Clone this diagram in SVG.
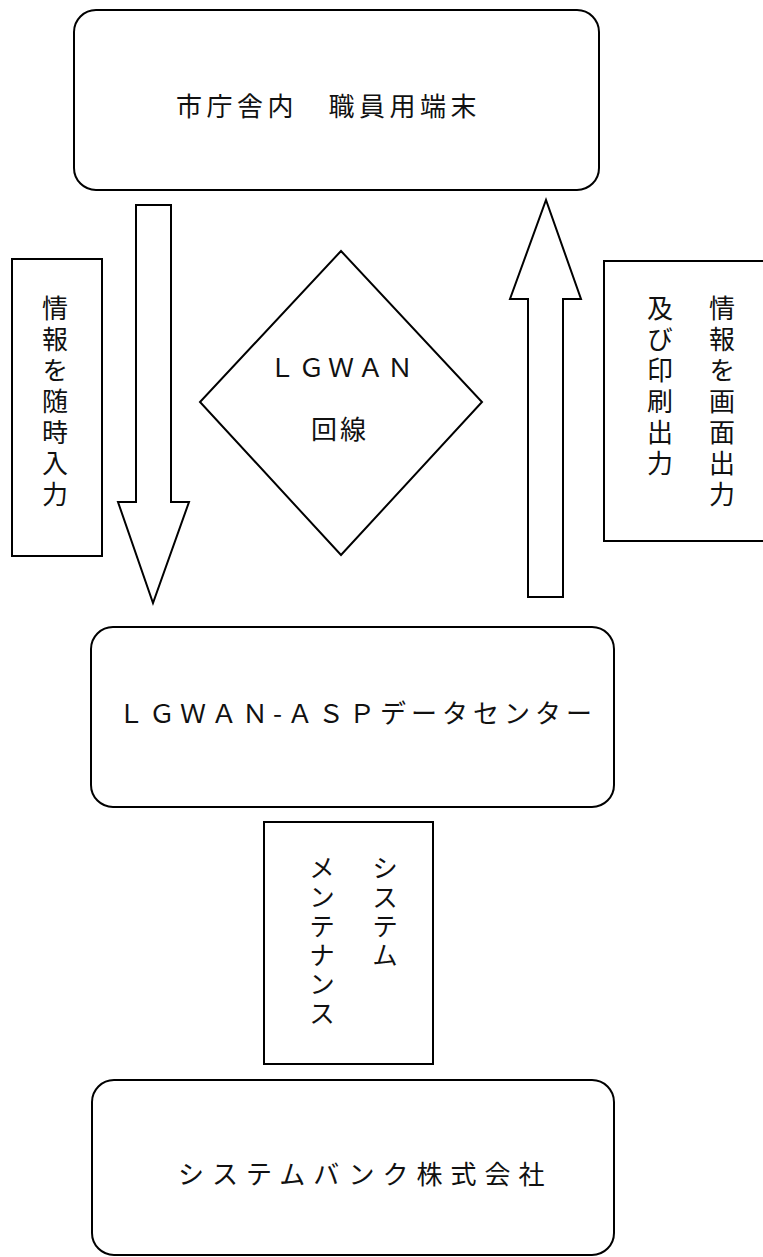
<svg xmlns="http://www.w3.org/2000/svg" width="763" height="1257" viewBox="0 0 763 1257">
<style>
.box{fill:#fff;stroke:#000;stroke-width:2}
.shape{fill:#fff;stroke:#000;stroke-width:2;stroke-linejoin:miter}
.t{font-family:"Noto Sans CJK JP","Noto Sans CJK SC",sans-serif;font-size:26px;fill:#111}
.v{writing-mode:vertical-rl}
</style>
<rect width="763" height="1257" fill="#fff"/>
<g id="connectors">
<polygon class="shape" points="136,205 171,205 171,502 189,502 153,603 118,502 136,502"/>
<polygon class="shape" points="528,597 563,597 563,299 581,299 546,200 510,299 528,299"/>
</g>
<g id="node-terminal">
<rect class="box" x="74" y="10" width="525" height="180" rx="22" ry="22"/>
<text class="t" x="176" y="116" letter-spacing="4.5">市庁舎内　職員用端末</text>
</g>
<g id="node-input-label">
<rect class="box" x="12" y="259" width="90" height="297"/>
<text class="t v" x="55" y="295" letter-spacing="5">情報を随時入力</text>
</g>
<g id="node-lgwan">
<polygon class="shape" points="341,251 482,402 341,555 200,402"/>
<text class="t" x="269" y="377" letter-spacing="3.5">ＬＧＷＡＮ</text>
<text class="t" x="311" y="439" letter-spacing="3">回線</text>
</g>
<g id="node-output-label">
<rect class="box" x="604" y="261" width="200" height="280"/>
<text class="t v" x="722" y="295" letter-spacing="5">情報を画面出力</text>
<text class="t v" x="660" y="295" letter-spacing="5">及び印刷出力</text>
</g>
<g id="node-datacenter">
<rect class="box" x="91" y="627" width="523" height="180" rx="22" ry="22"/>
<text class="t" x="118" y="723" letter-spacing="5">ＬＧＷＡＮ-ＡＳＰデータセンター</text>
</g>
<g id="node-maintenance-label">
<rect class="box" x="264" y="822" width="169" height="242"/>
<text class="t v" x="385" y="855" letter-spacing="3">システム</text>
<text class="t v" x="322" y="855" letter-spacing="3">メンテナンス</text>
</g>
<g id="node-company">
<rect class="box" x="92" y="1080" width="522" height="175" rx="22" ry="22"/>
<text class="t" x="178" y="1184" letter-spacing="8">システムバンク株式会社</text>
</g>
</svg>
